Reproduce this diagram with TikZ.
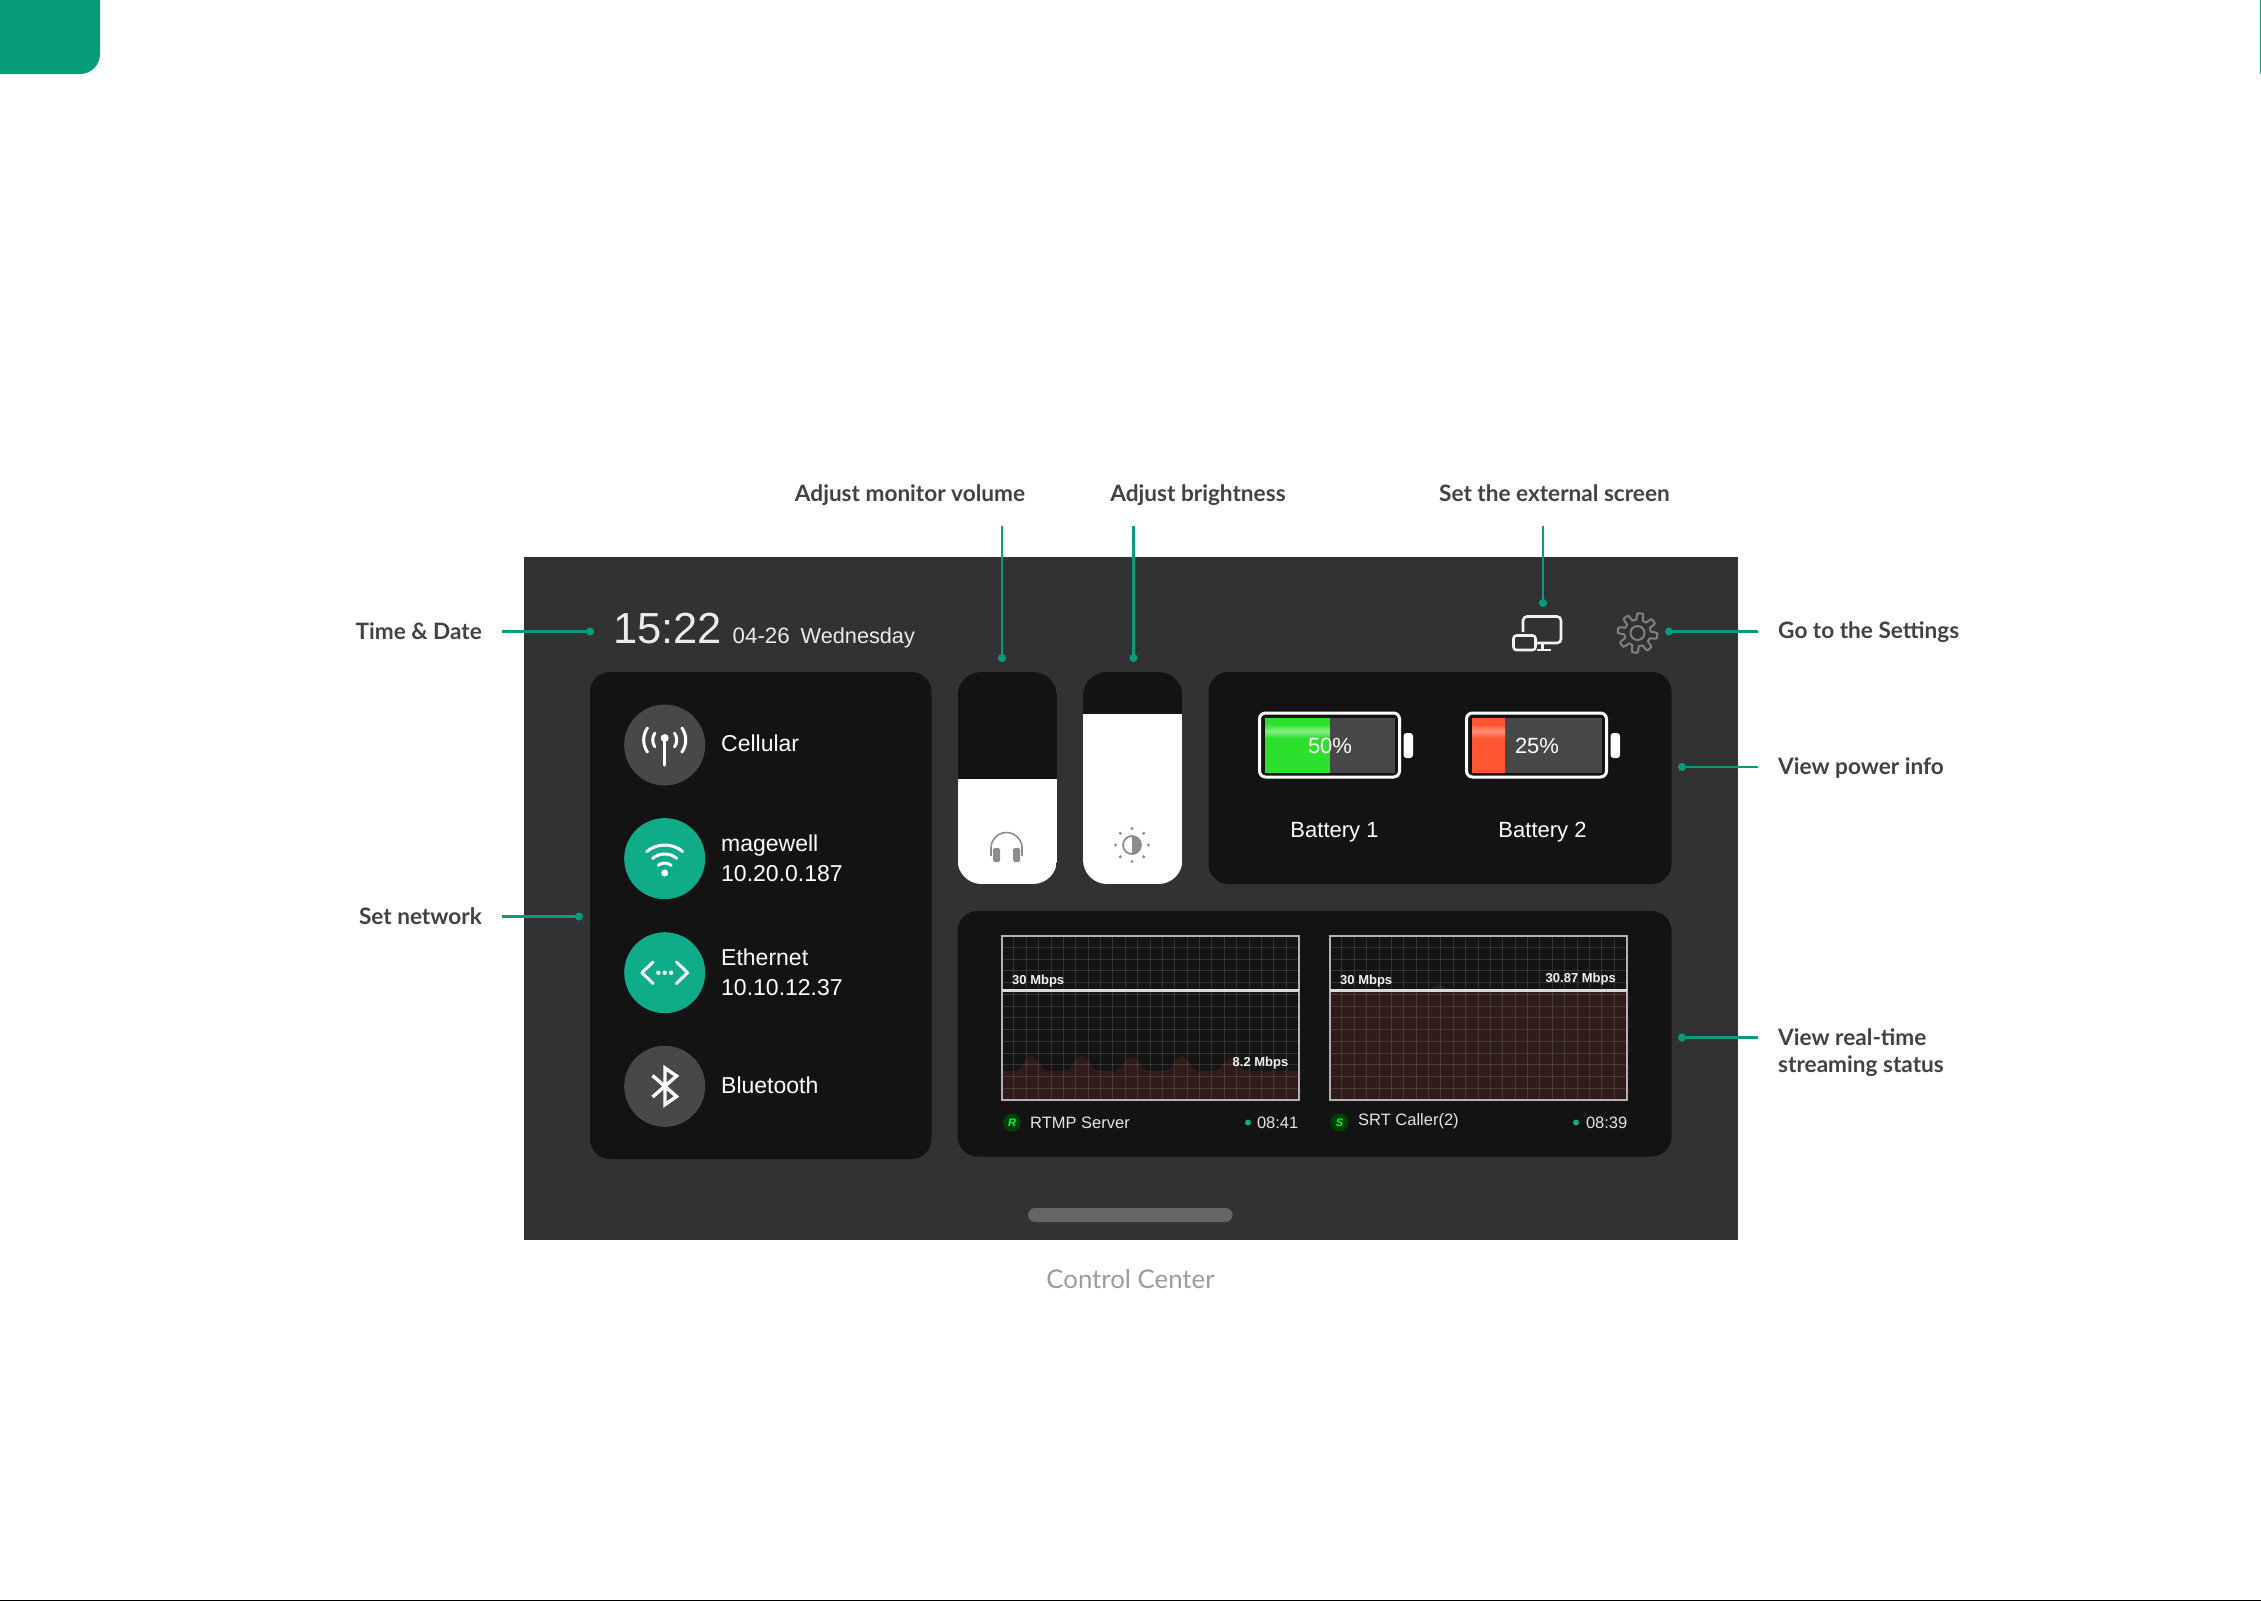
\documentclass[tikz,border=0pt]{standalone}
\usepackage{fontspec}
\setmainfont{Lato}
\newfontfamily\uifont{Liberation Sans}
\usetikzlibrary{arrows.meta,calc}
\definecolor{tealline}{HTML}{0C9A7C}
\definecolor{tabgreen}{HTML}{059A78}
\definecolor{circgreen}{HTML}{0FAC8A}
\definecolor{screenbg}{HTML}{323232}
\definecolor{panelbg}{HTML}{131313}
\definecolor{circgray}{HTML}{484848}
\definecolor{labelcol}{HTML}{424242}
\definecolor{capcol}{HTML}{9C9C9C}
\definecolor{areared}{HTML}{2F1B19}
\definecolor{chartbg}{HTML}{141414}
\tikzset{
  x=1pt,y=-1pt,
  conn/.style={draw=tealline,line width=2.4pt,-{Circle[length=8pt,width=8pt]}},
  lab/.style={font=\fontsize{22.6}{27}\selectfont\bfseries,text=labelcol,align=left,inner xsep=20pt,inner ysep=0pt},
  toplab/.style={font=\fontsize{22.6}{27}\selectfont\bfseries,text=labelcol,anchor=south,inner xsep=0pt,inner ysep=19pt,text depth=5pt},
  panel/.style={fill=panelbg,rounded corners=20pt},
  ui/.style={font=\uifont\fontsize{23}{30}\selectfont,text=white,inner sep=0pt},
  uis/.style={font=\uifont\fontsize{13}{16}\selectfont\bfseries,text=white!95!black,inner sep=0pt},
  uim/.style={font=\uifont\fontsize{16.5}{20}\selectfont,text=white!90!black,inner sep=0pt},
  icon/.style={draw=white,line width=3pt,line cap=round,line join=round},
  badge/.style={circle,fill=green!25!black,minimum size=18pt,inner sep=0pt,text=green!70!cyan,font=\uifont\fontsize{11}{11}\selectfont\bfseries\itshape},
  gridln/.style={draw=white,opacity=.13,line width=1pt},
  chartframe/.style={draw=white!70!black,line width=2pt},
  limit/.style={draw=white!85!black,line width=3pt},
}
\begin{document}
\begin{tikzpicture}
\useasboundingbox (0,0) rectangle (2261,1601);
\fill[white] (0,0) rectangle (2261,1601);
% page furniture
\fill[tabgreen,rounded corners=20pt] (-40,-40) rectangle (100,74);
\fill[tabgreen] (0,-1) rectangle (60,40);
\fill[tealline] (2259.5,0) rectangle (2261,74);
\fill[black] (0,1599.5) rectangle (2261,1601);
% screen
\fill[screenbg] (523.5,557) rectangle (1737.5,1240);
\fill[panelbg,rounded corners=20pt] (590,672) rectangle (931.5,1159);
% sliders
\foreach \xa/\xb/\ft in {957.5/1057/778.5,1083/1182.5/714}{
  \begin{scope}
    \clip[rounded corners=24pt] (\xa,672) rectangle (\xb,884);
    \fill[panelbg] (\xa,672) rectangle (\xb,884);
    \fill[white] (\xa,\ft) rectangle (\xb,884);
  \end{scope}
}
\fill[panel] (1208.5,672) rectangle (1671.5,884);
\fill[panel] (957.5,911) rectangle (1671.5,1156.5);
% handle
\fill[white!25!screenbg,rounded corners=7pt] (1028,1208) rectangle (1232.5,1222);
% header
\node[font=\uifont\fontsize{43.5}{44}\selectfont,text=white!92!black,anchor=base west,inner sep=0pt] (clock) at (613,643) {15:22};
\node[font=\uifont\fontsize{22.3}{22}\selectfont,text=white!92!black,anchor=base west,inner sep=0pt] (date) at (732.5,643.5) {04-26};
\node[font=\uifont\fontsize{21.7}{22}\selectfont,text=white!92!black,anchor=base west,inner sep=0pt] (day) at (800.5,643.5) {Wednesday};
% network circles
\fill[circgray] (664.7,745) circle[radius=40.5pt];
\fill[circgreen] (664.7,858.6) circle[radius=40.5pt];
\fill[circgreen] (664.7,972.7) circle[radius=40.5pt];
\fill[circgray] (664.7,1086.3) circle[radius=40.5pt];
% cellular icon
\coordinate (cell) at (664.7,738);
\coordinate (cellc) at (664.7,740);
\fill[white] (cell) circle[radius=4pt];
\draw[icon] (cell) -- (664.7,765);
\foreach \r in {12,21}{
  \draw[icon] ([shift={(-35:\r pt)}]cellc) arc[start angle=-35,end angle=35,radius=\r pt];
  \draw[icon] ([shift={(145:\r pt)}]cellc) arc[start angle=145,end angle=215,radius=\r pt];
}
% wifi icon
\coordinate (wifi) at (664.7,873);
\fill[white] (wifi) circle[radius=3.5pt];
\foreach \r in {10,19,28}{
  \draw[icon] ([shift={(130:\r pt)}]wifi) arc[start angle=130,end angle=50,radius=\r pt];
}
% ethernet icon
\draw[icon] (653,962) -- (642,972.7) -- (653,983.5);
\draw[icon] (676.5,962) -- (687.5,972.7) -- (676.5,983.5);
\foreach \d in {-6.3,0,6.3}{\fill[white] (664.7+\d,972.7) circle[radius=2.2pt];}
% bluetooth icon
\draw[icon,line width=3.4pt,line cap=butt,miter limit=10,line join=miter] (652.5,1075.5) -- (676.5,1096.5) -- (665,1104.5) -- (665,1068) -- (676.5,1076) -- (652.5,1097);
% network text
\node[ui,anchor=west] (tCell) at (721,743.5) {Cellular};
\node[ui,anchor=base west] (tWifi) at (721,851) {magewell};
\node[ui,anchor=base west] (tWifiIp) at (721,881.5) {10.20.0.187};
\node[ui,anchor=base west] (tEth) at (721,965) {Ethernet};
\node[ui,anchor=base west] (tEthIp) at (721,995.5) {10.10.12.37};
\node[ui,anchor=west] (tBt) at (721,1085) {Bluetooth};
% headphones
\draw[draw=black!45,line width=1.6pt] (991,856) -- (991,848) arc[start angle=180,end angle=0,radius=15.5pt] -- (1022,856);
\fill[black!45,rounded corners=1.5pt] (993,848) rectangle (1000,862);
\fill[black!45,rounded corners=1.5pt] (1013,848) rectangle (1020,862);
% sun
\coordinate (sun) at (1132,845);
\draw[black!45,line width=1.8pt] (sun) circle[radius=9pt];
\fill[black!45] (1132,836) arc[start angle=90,end angle=-90,radius=9pt] -- cycle;
\foreach \a in {0,45,...,315}{\fill[black!45] ($(sun)+(\a:16.5pt)$) circle[radius=1.7pt];}
% display icon
\draw[draw=white!95!black,line width=2.6pt,rounded corners=4pt] (1523,632) -- (1523,616.5) -- (1561,616.5) -- (1561,643) -- (1537,643);
\draw[draw=white!95!black,line width=2.6pt,rounded corners=3pt] (1513.5,635.5) rectangle (1535.5,650);
\draw[draw=white!95!black,line width=2.6pt] (1542.5,643) -- (1542.5,649.5) (1537,650) -- (1551,650);
% gear
\draw[draw=white!50!black,line width=2pt,line join=round] plot[domain=0:360,samples=181,variable=\t] ({1637.5+(16.5+3.3*max(min(2.4*sin(8*\t+22.5),1),-1))*cos(\t)},{633+(16.5+3.3*max(min(2.4*sin(8*\t+22.5),1),-1))*sin(\t)}) -- cycle;
\draw[draw=white!50!black,line width=2pt] (1637.5,633) circle[radius=7pt];
% batteries
\foreach \xl/\xr/\lvl/\col/\hi in {1259.5/1399.5/1329.5/2EE02E/86EE86,1466.5/1606.5/1505/FF5533/FF9078}{
  \definecolor{batt}{HTML}{\col}\definecolor{batthi}{HTML}{\hi}
  \draw[draw=white,line width=3pt,rounded corners=6pt] (\xl,713) rectangle (\xr,777);
  \fill[circgray] (\xl+5.5,718) rectangle (\xr-4.5,772.5);
  \fill[batt] (\xl+5.5,718) rectangle (\lvl,772.5);
  \shade[top color=batthi,bottom color=batt] (\xl+5.5,731) rectangle (\lvl,738);
  \shade[top color=batt,bottom color=batthi] (\xl+5.5,724) rectangle (\lvl,731);
  \fill[white,rounded corners=3pt] (\xr+4,733) rectangle (\xr+13.5,758);
}
\node[ui,font=\uifont\fontsize{22}{22}\selectfont] (p1) at (1330,745.5) {50\%};
\node[ui,font=\uifont\fontsize{22}{22}\selectfont] (p2) at (1537,745.5) {25\%};
\node[ui,font=\uifont\fontsize{22}{22}\selectfont] (b1) at (1334.5,832) {Battery 1};
\node[ui,font=\uifont\fontsize{22}{22}\selectfont] (b2) at (1542.5,832) {Battery 2};
% charts
\foreach \xo in {1001.5,1329.5}{
  \fill[chartbg] (\xo,935.5) rectangle (\xo+297,1100);
}
\fill[areared] (1001.5,1100) -- (1001.5,1070.5) -- (1016,1070.5) .. controls (1023,1070.5) and (1025,1056) .. (1031.5,1056) .. controls (1038,1056) and (1040,1070.5) .. (1048,1070.5) -- (1065,1070.5) .. controls (1072,1070.5) and (1075,1056) .. (1081.5,1056) .. controls (1088,1056) and (1091,1070.5) .. (1098,1070.5) -- (1115,1070.5) .. controls (1122,1070.5) and (1125,1056) .. (1131.5,1056) .. controls (1138,1056) and (1141,1070.5) .. (1148,1070.5) -- (1165,1070.5) .. controls (1172,1070.5) and (1175,1056) .. (1181.5,1056) .. controls (1188,1056) and (1191,1070.5) .. (1198,1070.5) -- (1215,1070.5) .. controls (1222,1070.5) and (1225,1058) .. (1231,1058) .. controls (1237,1058) and (1240,1070.5) .. (1247,1070.5) -- (1298.5,1070.5) -- (1298.5,1100) -- cycle;
\fill[areared] (1329.5,1100) -- (1329.5,990) -- (1425,990) .. controls (1432,990) and (1434,985) .. (1439,985) .. controls (1444,985) and (1446,990) .. (1453,990) -- (1626.5,990) -- (1626.5,1100) -- cycle;
\foreach \xo in {1001.5,1329.5}{
  \foreach \i in {1,...,23}{\draw[gridln] (\xo+\i*12.375,935.5) -- (\xo+\i*12.375,1100);}
  \foreach \j in {1,...,13}{\draw[gridln] (\xo,935.5+\j*11.75) -- (\xo+297,935.5+\j*11.75);}
  \draw[chartframe] (\xo,935.5) rectangle (\xo+297,1100);
  \draw[limit] (\xo,990.5) -- (\xo+297,990.5);
}
\node[uis,anchor=west] (m1) at (1012,981) {30 Mbps};
\node[uis,anchor=east] (m2) at (1288.5,1063) {8.2 Mbps};
\node[uis,anchor=west] (m3) at (1340,981) {30 Mbps};
\node[uis,anchor=east] (m4) at (1616,979.5) {30.87 Mbps};
\node[badge] (bR) at (1012,1122.5) {R};
\node[uim,anchor=west] (sR) at (1030,1122.5) {RTMP Server};
\fill[circgreen] (1248,1122.5) circle[radius=3pt];
\node[uim,anchor=east] (tR) at (1298.5,1122.5) {08:41};
\node[badge] (bS) at (1339.5,1122.5) {S};
\node[uim,anchor=west] (sS) at (1358,1121.5) {SRT Caller(2)};
\fill[circgreen] (1576,1122.5) circle[radius=3pt];
\node[uim,anchor=east] (tS) at (1627.5,1122.5) {08:39};
% labels and connectors
\coordinate (dTime) at (594,631.5);
\coordinate (dNet) at (583,916.5);
\coordinate (dVol) at (1002,662);
\coordinate (dBri) at (1133.5,662);
\coordinate (dExt) at (1543,607);
\coordinate (dSet) at (1665,631.5);
\coordinate (dPow) at (1678,767);
\coordinate (dStr) at (1678,1037.5);
\node[lab,anchor=east] (lTime) at (502,631.5) {Time \& Date};
\node[lab,anchor=east] (lNet) at (502,916.5) {Set network};
\node[toplab] (lVol) at (910,526) {Adjust monitor volume};
\node[toplab] (lBri) at (1198,526) {Adjust brightness};
\node[toplab] (lExt) at (1554.5,526) {Set the external screen};
\node[lab,anchor=west] (lSet) at (1758,632.5) {Go to the Settings};
\node[lab,anchor=west] (lPow) at (1758,768.5) {View power info};
\node[lab,anchor=west] (lStr) at (1758,1052.5) {View real-time\\streaming status};
\draw[conn] (lTime.east) -- (dTime);
\draw[conn] (lNet.east) -- (dNet);
\draw[conn] (lVol.south -| dVol) -- (dVol);
\draw[conn] (lBri.south -| dBri) -- (dBri);
\draw[conn] (lExt.south -| dExt) -- (dExt);
\draw[conn] (lSet.west |- dSet) -- (dSet);
\draw[conn] (lPow.west |- dPow) -- (dPow);
\draw[conn] (lStr.west |- dStr) -- (dStr);
\node[font=\fontsize{25.8}{26}\selectfont,text=capcol,anchor=base,inner sep=0pt] (cap) at (1130.5,1288) {Control Center};
\end{tikzpicture}
\end{document}
